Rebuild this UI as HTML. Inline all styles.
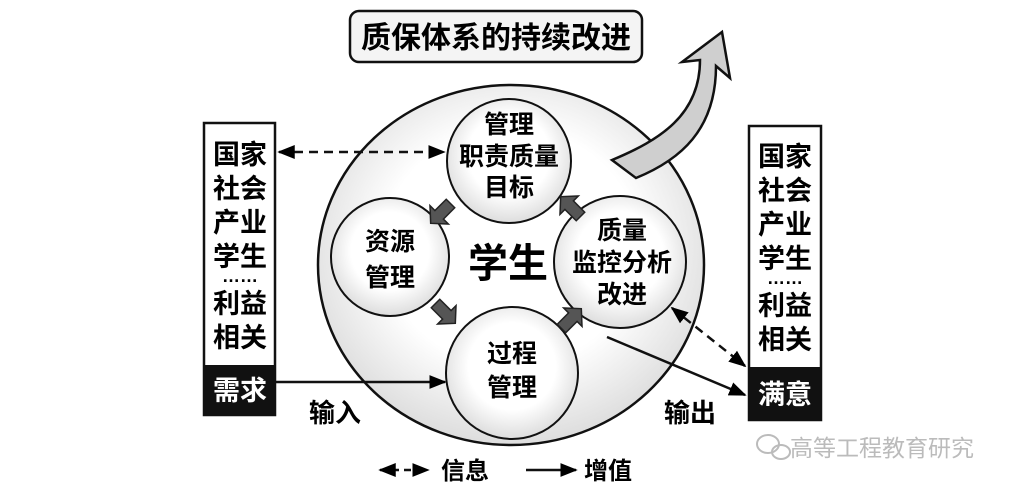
<!DOCTYPE html>
<html><head><meta charset="utf-8"><style>
body{margin:0;background:#fff;}
svg text{font-family:"Liberation Sans","Noto Sans CJK SC",sans-serif;font-weight:bold;}
</style></head><body>
<svg width="1024" height="492" viewBox="0 0 1024 492" xmlns="http://www.w3.org/2000/svg">
<defs>
<radialGradient id="g" cx="50%" cy="45%" r="55%"><stop offset="0.6" stop-color="#fff"/><stop offset="1" stop-color="#ddd"/></radialGradient>
<marker id="ah" viewBox="0 0 10 10" refX="9" refY="5" markerWidth="7" markerHeight="7" orient="auto-start-reverse"><path d="M0,1 L10,5 L0,9 z" fill="#000"/></marker>
</defs>
<!-- top box -->
<rect x="350" y="11" width="292" height="51" rx="9" fill="#f4f4f4" stroke="#111" stroke-width="2.5"/>
<text x="496" y="48" font-size="30" text-anchor="middle">质保体系的持续改进</text>
<!-- big circle -->
<ellipse cx="511" cy="265" rx="193" ry="180" fill="url(#g)" stroke="#111" stroke-width="2.5"/>
<!-- curved arrow -->
<path d="M612,160 C660,140 700,115 700,60 L682,62 L722,32 L730,78 L716,66 C716,130 680,160 636,178 Z" fill="#cfcfcf" stroke="#111" stroke-width="2.5"/>
<!-- small circles -->
<circle cx="509" cy="161" r="62" fill="url(#g)" stroke="#111" stroke-width="2"/>
<circle cx="390" cy="257" r="59" fill="url(#g)" stroke="#111" stroke-width="2"/>
<circle cx="620" cy="262" r="66" fill="url(#g)" stroke="#111" stroke-width="2"/>
<circle cx="512" cy="373" r="66" fill="url(#g)" stroke="#111" stroke-width="2"/>
<g font-size="25" text-anchor="middle">
<text x="509" y="133">管理</text><text x="509" y="165">职责质量</text><text x="509" y="196">目标</text>
<text x="390" y="250">资源</text><text x="390" y="286">管理</text>
<text x="622" y="239">质量</text><text x="622" y="271">监控分析</text><text x="622" y="303">改进</text>
<text x="512" y="362">过程</text><text x="512" y="396">管理</text>
</g>
<text x="508" y="277" font-size="40" text-anchor="middle">学生</text>
<!-- dark arrows -->
<g fill="#555" stroke="#222" stroke-width="1.5">
<polygon points="-12,-6 4,-6 4,-13 16,0 4,13 4,6 -12,6" transform="translate(442,212) rotate(135)"/>
<polygon points="-12,-6 4,-6 4,-13 16,0 4,13 4,6 -12,6" transform="translate(572,208) rotate(-135)"/>
<polygon points="-12,-6 4,-6 4,-13 16,0 4,13 4,6 -12,6" transform="translate(444,312) rotate(45)"/>
<polygon points="-12,-6 4,-6 4,-13 16,0 4,13 4,6 -12,6" transform="translate(570,320) rotate(-45)"/>
</g>
<!-- left box -->
<rect x="204" y="123" width="71" height="292" fill="#fff" stroke="#111" stroke-width="2.5"/>
<rect x="204" y="365" width="71" height="50" fill="#111"/>
<g font-size="27" text-anchor="middle">
<text x="240" y="164">国家</text><text x="240" y="198">社会</text><text x="240" y="232">产业</text><text x="240" y="266">学生</text>
<text x="240" y="282" font-size="18">……</text>
<text x="240" y="313">利益</text><text x="240" y="347">相关</text>
<text x="240" y="400" fill="#fff">需求</text>
</g>
<!-- right box -->
<rect x="749" y="126" width="72" height="294" fill="#fff" stroke="#111" stroke-width="2.5"/>
<rect x="749" y="367" width="72" height="53" fill="#111"/>
<g font-size="27" text-anchor="middle">
<text x="785" y="166">国家</text><text x="785" y="200">社会</text><text x="785" y="234">产业</text><text x="785" y="268">学生</text>
<text x="785" y="284" font-size="18">……</text>
<text x="785" y="315">利益</text><text x="785" y="349">相关</text>
<text x="785" y="404" fill="#fff">满意</text>
</g>
<!-- arrows -->
<line x1="279" y1="152" x2="444" y2="152" stroke="#111" stroke-width="2.5" stroke-dasharray="9,6" marker-start="url(#ah)" marker-end="url(#ah)"/>
<line x1="276" y1="382" x2="445" y2="382" stroke="#111" stroke-width="2.5" marker-end="url(#ah)"/>
<line x1="607" y1="337" x2="745" y2="395" stroke="#111" stroke-width="2.5" marker-end="url(#ah)"/>
<line x1="672" y1="308" x2="745" y2="366" stroke="#111" stroke-width="2.5" stroke-dasharray="9,6" marker-start="url(#ah)" marker-end="url(#ah)"/>
<text x="335" y="422" font-size="26" text-anchor="middle">输入</text>
<text x="690" y="422" font-size="26" text-anchor="middle">输出</text>
<!-- legend -->
<line x1="380" y1="470" x2="428" y2="470" stroke="#111" stroke-width="2.5" stroke-dasharray="7,5" marker-start="url(#ah)" marker-end="url(#ah)"/>
<text x="465" y="479" font-size="24" text-anchor="middle">信息</text>
<line x1="526" y1="470" x2="576" y2="470" stroke="#111" stroke-width="2.5" marker-end="url(#ah)"/>
<text x="608" y="479" font-size="24" text-anchor="middle">增值</text>
<!-- watermark -->
<g fill="none" stroke="#bbb" stroke-width="2"><ellipse cx="768" cy="444" rx="11" ry="9"/><ellipse cx="781" cy="452" rx="9" ry="7"/></g>
<text x="790" y="456" font-size="23" fill="#bbb" style="font-weight:normal">高等工程教育研究</text>
</svg>
</body></html>
